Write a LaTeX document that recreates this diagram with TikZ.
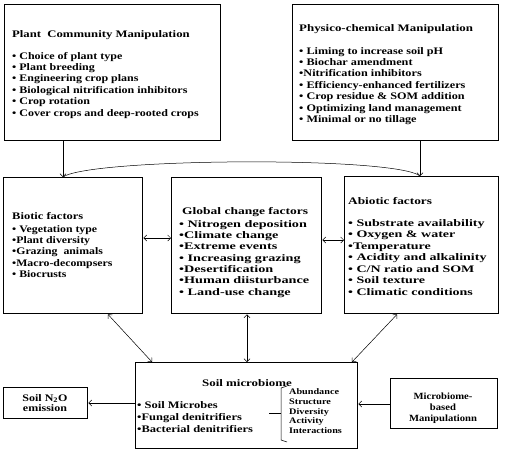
\documentclass[tikz,border=0pt]{standalone}
\usepackage{fontspec}
\setmainfont{Liberation Serif}
\usetikzlibrary{arrows.meta}
\newcommand{\sxl}[2]{\scalebox{#1}[1]{\begin{tabular}{@{}l@{}}#2\end{tabular}}}
\newcommand{\sxc}[2]{\scalebox{#1}[1]{\begin{tabular}{@{}c@{}}#2\end{tabular}}}
\newcommand{\sxt}[2]{\scalebox{#1}[1]{\bfseries #2}}
\begin{document}
\begin{tikzpicture}[x=1pt,y=-1pt,
  box/.style={draw, line width=1.4pt, anchor=north west, inner sep=0},
  con/.style={line width=0.5pt},
  >={Straight Barb[length=3pt,width=6pt]},
  txt/.style={inner sep=0, anchor=north west, font=\fontsize{10}{11.4}\selectfont\bfseries},
  ttl/.style={inner sep=0, anchor=base west, font=\fontsize{10}{11.4}\selectfont\bfseries}]
\useasboundingbox (0,0) rectangle (507,453);
% boxes
\node[box, minimum width=216pt, minimum height=136pt] (plant) at (4,4) {};
\node[box, minimum width=206pt, minimum height=136pt] (phys) at (292,4) {};
\node[box, minimum width=139pt, minimum height=136pt] (biotic) at (3,177) {};
\node[box, minimum width=150pt, minimum height=136pt] (global) at (171,177) {};
\node[box, minimum width=154pt, minimum height=137pt] (abiotic) at (344,176) {};
\node[box, minimum width=222pt, minimum height=86pt] (micro) at (135,362) {};
\node[box, minimum width=84pt, minimum height=31pt] (n2o) at (3,387) {};
\node[box, minimum width=107pt, minimum height=50pt] (mbm) at (390,378) {};
% texts
\node[inner sep=0, font=\fontsize{10}{10.5}\selectfont\bfseries] (n2oT) at (45,404.5) {\sxc{1.2}{Soil N\textsubscript{2}O\\emission}};
\node[inner sep=0, font=\fontsize{9.5}{11}\selectfont\bfseries] (mbmT) at (443,408.5) {\sxc{1.12}{Microbiome-\\based\\Manipulationn}};
\node[ttl] (plantT) at (12,37.5) {\sxt{1.27}{Plant\ \ Community Manipulation}};
\node[txt] (plantL) at (12,51) {\sxl{1.2}{• Choice of plant type\\• Plant breeding\\• Engineering crop plans\\• Biological nitrification inhibitors\\• Crop rotation\\• Cover crops and deep-rooted crops}};
\node[ttl] (physT) at (299,31.5) {\sxt{1.29}{Physico-chemical Manipulation}};
\node[txt] (physL) at (299,46) {\sxl{1.22}{• Liming to increase soil pH\\• Biochar amendment\\•Nitrification inhibitors\\• Efficiency-enhanced fertilizers\\• Crop residue \& SOM addition\\• Optimizing land management\\• Minimal or no tillage}};
\node[ttl] (bioT) at (12,219) {\sxt{1.25}{Biotic factors}};
\node[txt, font=\fontsize{10}{11.3}\selectfont\bfseries] (bioL) at (12,224) {\sxl{1.18}{• Vegetation type\\•Plant diversity\\•Grazing\ \ animals\\•Macro-decompsers\\• Biocrusts}};
\node[ttl] (gloT) at (182,214) {\sxt{1.35}{Global change factors}};
\node[txt, font=\fontsize{10}{11.35}\selectfont\bfseries] (gloL) at (179,219) {\sxl{1.42}{• Nitrogen deposition\\•Climate change\\•Extreme events\\• Increasing grazing\\•Desertification\\•Human diisturbance\\• Land-use change}};
\node[ttl] (abiT) at (348,204) {\sxt{1.33}{Abiotic factors}};
\node[txt, font=\fontsize{10}{11.5}\selectfont\bfseries] (abiL) at (348,218) {\sxl{1.4}{• Substrate availability\\• Oxygen \& water\\•Temperature\\• Acidity and alkalinity\\• C/N ratio and SOM\\• Soil texture\\• Climatic conditions}};
\node[ttl, anchor=base] (micT) at (247,386.5) {\sxt{1.29}{Soil microbiome}};
\node[txt, font=\fontsize{10}{12}\selectfont\bfseries] (micL) at (137,400) {\sxl{1.25}{• Soil Microbes\\•Fungal denitrifiers\\•Bacterial denitrifiers}};
\node[txt, font=\fontsize{8.5}{9.8}\selectfont\bfseries] (micR) at (289,387.5) {\sxl{1.2}{Abundance\\Structure\\Diversity\\Activity\\Interactions}};
% bracket
\draw[con] (287,386) -- (281,388) -- (281,440) -- (287,442);
\draw[con] (269,413) -- (281,413);
% connectors
\draw[con,->] (63,0 |- plant.south) -- (63,0 |- biotic.north);
\draw[con,->] (420,0 |- phys.south) -- (420,0 |- abiotic.north);
\draw[con] (63,0 |- biotic.north) .. controls (90,158) and (395,156) .. (420,0 |- abiotic.north);
\draw[con,<->] (biotic.east |- 0,238) -- (global.west |- 0,238);
\draw[con,<->] (global.east |- 0,240) -- (abiotic.west |- 0,240);
\draw[con,<->] (108,0 |- biotic.south) -- (152,0 |- micro.north);
\draw[con,<->] (247,0 |- global.south) -- (247,0 |- micro.north);
\draw[con,<->] (397,0 |- abiotic.south) -- (352,0 |- micro.north);
\draw[con,->] (micro.west |- 0,403) -- (n2o.east |- 0,403);
\draw[con,->] (mbm.west |- 0,404) -- (micro.east |- 0,404);
\end{tikzpicture}
\end{document}
